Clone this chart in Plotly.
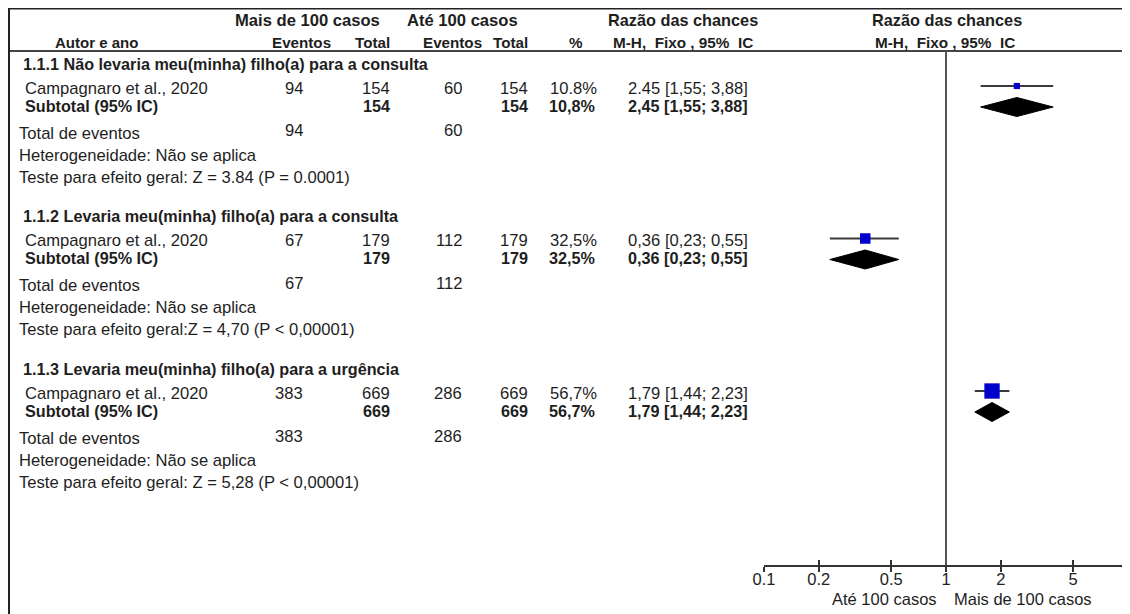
import plotly.graph_objects as go

# ---------------- data ----------------
group_titles = [
    "1.1.1 Não levaria meu(minha) filho(a) para a consulta",
    "1.1.2 Levaria meu(minha) filho(a) para a consulta",
    "1.1.3 Levaria meu(minha) filho(a) para a urgência",
]
study_names = ["Campagnaro et al., 2020"] * 3
events_more = [94, 67, 383]
total_more = [154, 179, 669]
events_upto = [60, 112, 286]
total_upto = [154, 179, 669]
weights = [10.8, 32.5, 56.7]
weight_labels = ["10.8%", "32,5%", "56,7%"]
weight_labels_sub = ["10,8%", "32,5%", "56,7%"]
or_est = [2.45, 0.36, 1.79]
or_lo = [1.55, 0.23, 1.44]
or_hi = [3.88, 0.55, 2.23]
or_labels = ["2.45 [1,55; 3,88]", "0,36 [0,23; 0,55]", "1,79 [1,44; 2,23]"]
or_labels_sub = ["2,45 [1,55; 3,88]", "0,36 [0,23; 0,55]", "1,79 [1,44; 2,23]"]
tests = [
    "Teste para efeito geral: Z = 3.84 (P = 0.0001)",
    "Teste para efeito geral:Z = 4,70 (P < 0,00001)",
    "Teste para efeito geral: Z = 5,28 (P < 0,00001)",
]
tick_vals = [0.1, 0.2, 0.5, 1, 2, 5, 10]
tick_text = ["0.1", "0.2", "0.5", "1", "2", "5", "10"]

# ---------------- layout constants ----------------
PAGE_W, PAGE_H = 1130, 614
OX, OY = 8, 8                      # page body margin
W, H = PAGE_W - OX, PAGE_H - OY    # figure size
FONT = "Liberation Sans, Arial, sans-serif"
TXT = "#1e1e1e"
FS = 16.6
FSB = 16.2
GROUP_STEP = 152.5
BASE = 64
AXIS_Y = 565
HEAD_Y = 51


def py(y):
    return 1 - (y - OY) / H


def px(x):
    return (x - OX) / W


annotations = []


def text(x, y, s, anchor="left", bold=False, size=None, color=TXT):
    if size is None:
        size = FSB if bold else FS
    annotations.append(dict(
        xref="paper", yref="paper", x=px(x), y=py(y), text=f"<b>{s}</b>" if bold else s,
        showarrow=False, xanchor=anchor, yanchor="middle", borderpad=0,
        font=dict(family=FONT, size=size, color=color)))


# header
text(307, 20, "Mais de 100 casos", "center", True, 16.6)
text(462, 20, "Até 100 casos", "center", True, 16.6)
text(683, 20, "Razão das chances", "center", True, 16.3)
text(947, 20, "Razão das chances", "center", True, 16.3)
text(97, 42, "Autor e ano", "center", True, 15)
text(301, 42, "Eventos", "center", True, 15.2)
text(391, 42, "Total", "right", True, 15.2)
text(452, 42, "Eventos", "center", True, 15.2)
text(529, 42, "Total", "right", True, 15.2)
text(576, 42, "%", "center", True, 15.2)
text(683, 42, "M-H,  Fixo , 95%  IC", "center", True, 15.3)
text(945, 42, "M-H,  Fixo , 95%  IC", "center", True, 15.3)

fig = go.Figure()

for g in range(3):
    y0 = BASE + GROUP_STEP * g
    text(22, y0, group_titles[g], bold=True)
    # study row
    ys = y0 + 24
    text(24, ys, study_names[g])
    text(304, ys, str(events_more[g]), "right")
    text(391, ys, str(total_more[g]), "right")
    text(463, ys, str(events_upto[g]), "right")
    text(529, ys, str(total_upto[g]), "right")
    text(598, ys, weight_labels[g], "right")
    text(749, ys, or_labels[g], "right")
    # subtotal row
    yt = y0 + 42
    text(24, yt, "Subtotal (95% IC)", bold=True)
    text(391, yt, str(total_more[g]), "right", True)
    text(529, yt, str(total_upto[g]), "right", True)
    text(596, yt, weight_labels_sub[g], "right", True)
    text(749, yt, or_labels_sub[g], "right", True)
    # footer rows
    text(18, y0 + 69, "Total de eventos")
    text(304, y0 + 67, str(events_more[g]), "right")
    text(463, y0 + 67, str(events_upto[g]), "right")
    text(18, y0 + 91, "Heterogeneidade: Não se aplica")
    text(18, y0 + 113, tests[g])

    # CI line
    ym = y0 + 22
    fig.add_trace(go.Scatter(x=[or_lo[g], or_hi[g]], y=[ym, ym], mode="lines",
                             line=dict(color="#3a3a3a", width=2), hoverinfo="skip",
                             showlegend=False))
    fig.add_trace(go.Scatter(x=[or_est[g]], y=[ym], mode="markers",
                             marker=dict(symbol="square", size=4 + 0.2 * weights[g],
                                         color="#0000cc", line=dict(width=0)),
                             hoverinfo="skip", showlegend=False))
    # diamond
    yd = y0 + 43
    fig.add_trace(go.Scatter(
        x=[or_lo[g], or_est[g], or_hi[g], or_est[g], or_lo[g]],
        y=[yd, yd - 9.5, yd, yd + 9.5, yd], mode="lines", fill="toself",
        fillcolor="#000000", line=dict(color="#000000", width=1),
        hoverinfo="skip", showlegend=False))

# dummy trace for the inside-tick overlay axis
fig.add_trace(go.Scatter(x=[1], y=[AXIS_Y], xaxis="x2", mode="markers",
                         marker=dict(opacity=0), hoverinfo="skip", showlegend=False))

text(938, 599, "Até 100 casos", "right", size=16.5)
text(953, 599, "Mais de 100 casos", "left", size=16.5)

shapes = [
    dict(type="line", xref="paper", yref="paper", x0=0, x1=1, y0=1, y1=1,
         line=dict(color="#222222", width=3)),
    dict(type="line", xref="paper", yref="paper", x0=0, x1=1, y0=py(51), y1=py(51),
         line=dict(color="#444444", width=2)),
    dict(type="line", xref="paper", yref="paper", x0=px(9), x1=px(9), y0=0, y1=1,
         line=dict(color="#222222", width=2)),
    dict(type="line", xref="x", yref="y", x0=1, x1=1, y0=HEAD_Y, y1=AXIS_Y,
         line=dict(color="#555555", width=2)),
]

xdom = [px(764), px(1128)]
axis_common = dict(type="log", range=[-1, 1], domain=xdom, tickvals=tick_vals,
                   showgrid=False, zeroline=False, ticklen=5, tickwidth=1.5,
                   tickcolor="#333333", automargin=False)
fig.update_layout(
    width=W, height=H, margin=dict(l=0, r=0, t=0, b=0, pad=0, autoexpand=False),
    paper_bgcolor="white", plot_bgcolor="white",
    xaxis=dict(**axis_common, ticktext=tick_text, ticks="outside", showline=True,
               linecolor="#333333", linewidth=1.5, ticklabelstandoff=-7,
               tickfont=dict(family=FONT, size=16.5, color="#222222")),
    xaxis2=dict(**axis_common, overlaying="x", anchor="y", side="bottom",
                ticks="inside", showticklabels=False, showline=False),
    yaxis=dict(range=[AXIS_Y, HEAD_Y], domain=[py(AXIS_Y), py(HEAD_Y)],
               visible=False, fixedrange=True, automargin=False),
    annotations=annotations, shapes=shapes, showlegend=False,
)

fig.write_html("out.html")
